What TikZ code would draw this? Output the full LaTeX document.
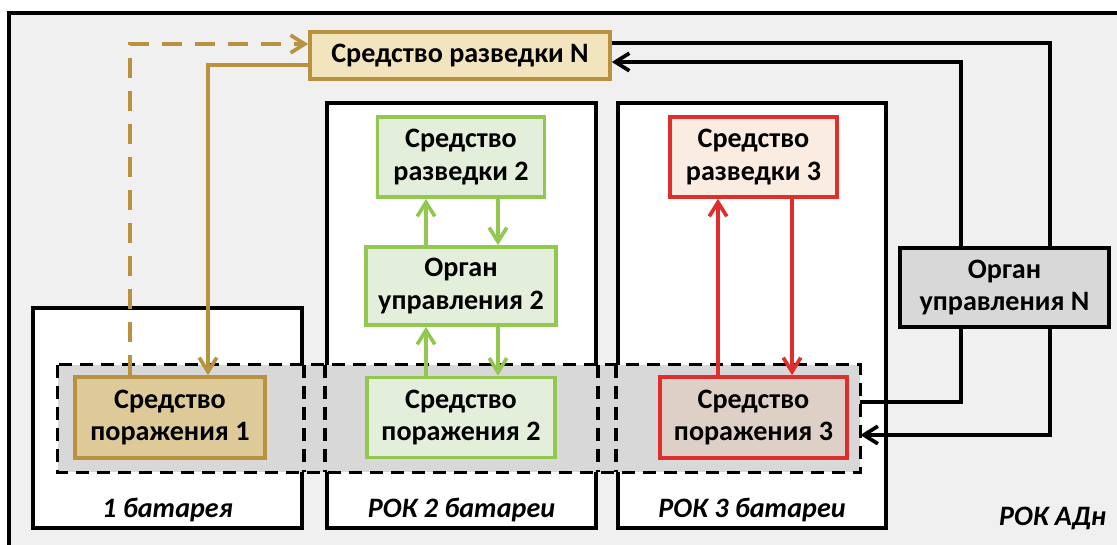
\documentclass[tikz,border=0pt]{standalone}
\usepackage{fontspec}
\setmainfont{Carlito}
\usetikzlibrary{arrows.meta}
\definecolor{bgGray}{RGB}{240,240,240}
\definecolor{bandGray}{RGB}{216,216,216}
\definecolor{goldLine}{RGB}{184,146,62}
\definecolor{goldLight}{RGB}{242,228,188}
\definecolor{goldDark}{RGB}{221,202,152}
\definecolor{greenLine}{RGB}{146,200,82}
\definecolor{greenFill}{RGB}{227,239,218}
\definecolor{redLine}{RGB}{222,46,46}
\definecolor{redLight}{RGB}{251,236,226}
\definecolor{redDark}{RGB}{222,208,198}
\definecolor{orgFill}{RGB}{216,216,216}
\tikzset{
  unit/.style={draw, line width=2.1pt, align=center, inner sep=0pt,
    font=\bfseries\fontsize{16}{18.5}\selectfont},
  frame/.style={draw=black, fill=white, line width=2.6pt, inner sep=0pt},
  tag/.style={font=\bfseries\itshape\fontsize{16}{18.5}\selectfont, inner sep=2pt},
  bandline/.style={draw=black, line width=2.1pt, dash pattern=on 0.26cm off 0.16cm},
  arr/.style={-{Straight Barb[length=8pt,width=10pt]}},
  link/.style={line width=2.1pt}
}
\begin{document}
\begin{tikzpicture}
  \clip (0,0) rectangle (22.34,10.88);
  \fill[white] (0,0) rectangle (22.34,10.88);
  % outer frame
  \draw[fill=bgGray, line width=2.8pt] (0.18,10.62) rectangle (23,-1);
  \node[tag, anchor=south east] (adn) at (22.2,0.2) {РОК АДн};

  % battery frames
  \node[frame, minimum width=5.38cm, minimum height=4.40cm] (bat1) at (3.35,2.52) {};
  \node[frame, minimum width=5.38cm, minimum height=8.50cm] (bat2) at (9.23,4.57) {};
  \node[frame, minimum width=5.36cm, minimum height=8.50cm] (bat3) at (15.04,4.57) {};
  \node[tag, above=0.08cm] (lab1) at (bat1.south) {1 батарея};
  \node[tag, above=0.08cm] (lab2) at (bat2.south) {РОК 2 батареи};
  \node[tag, above=0.08cm] (lab3) at (bat3.south) {РОК 3 батареи};

  % strike band
  \node[fill=bandGray, inner sep=0pt, minimum width=16.04cm, minimum height=2.14cm] (band) at (9.18,2.51) {};
  \draw[bandline] (band.north west) rectangle (band.south east);
  \draw[bandline] (bat1.east |- band.north) -- (bat1.east |- band.south);
  \draw[bandline] (bat2.west |- band.north) -- (bat2.west |- band.south);
  \draw[bandline] (bat2.east |- band.north) -- (bat2.east |- band.south);
  \draw[bandline] (bat3.west |- band.north) -- (bat3.west |- band.south);

  % units
  \node[unit, draw=goldLine, fill=goldLight, minimum width=6.0cm, minimum height=0.94cm] (razvN) at (9.2,9.77) {Средство разведки N};
  \node[unit, draw=goldLine, fill=goldDark, minimum width=3.8cm, minimum height=1.62cm] (por1) at (3.4,2.53) {Средство\\поражения 1};

  \node[unit, draw=greenLine, fill=greenFill, minimum width=3.34cm, minimum height=1.6cm] (razv2) at (9.22,7.74) {Средство\\разведки 2};
  \node[unit, draw=greenLine, fill=greenFill, minimum width=3.8cm, minimum height=1.56cm] (org2) at (9.22,5.16) {Орган\\управления 2};
  \node[unit, draw=greenLine, fill=greenFill, minimum width=3.76cm, minimum height=1.6cm] (por2) at (9.22,2.53) {Средство\\поражения 2};

  \node[unit, draw=redLine, fill=redLight, minimum width=3.34cm, minimum height=1.6cm] (razv3) at (15.07,7.74) {Средство\\разведки 3};
  \node[unit, draw=redLine, fill=redDark, minimum width=3.74cm, minimum height=1.62cm] (por3) at (15.07,2.53) {Средство\\поражения 3};

  \node[unit, draw=black, fill=orgFill, minimum width=4.18cm, minimum height=1.58cm] (orgN) at (20.09,5.13) {Орган\\управления N};

  % gold links
  \draw[link, goldLine, arr, dash pattern=on 0.4cm off 0.26cm] ([xshift=-0.8cm]por1.north) |- ([yshift=0.23cm]razvN.west);
  \draw[link, goldLine, arr] ([yshift=-0.19cm]razvN.west) -| ([xshift=0.76cm]por1.north);

  % green links
  \draw[link, greenLine, arr] ([xshift=-0.7cm]org2.north) -- ([xshift=-0.7cm]razv2.south);
  \draw[link, greenLine, arr] ([xshift=0.74cm]razv2.south) -- ([xshift=0.74cm]org2.north);
  \draw[link, greenLine, arr] ([xshift=-0.7cm]por2.north) -- ([xshift=-0.7cm]org2.south);
  \draw[link, greenLine, arr] ([xshift=0.74cm]org2.south) -- ([xshift=0.74cm]por2.north);

  % red links
  \draw[link, redLine, arr] ([xshift=-0.71cm]por3.north) -- ([xshift=-0.71cm]razv3.south);
  \draw[link, redLine, arr] ([xshift=0.77cm]razv3.south) -- ([xshift=0.77cm]por3.north);

  % black links
  \draw[link] ([yshift=0.25cm]razvN.east) -| ([xshift=0.91cm]orgN.north);
  \draw[link, arr] ([xshift=-0.87cm]orgN.north) |- ([yshift=-0.13cm]razvN.east);
  \draw[link] ([xshift=-0.87cm]orgN.south) |- ([yshift=0.33cm]band.east);
  \draw[link, arr] ([xshift=0.91cm]orgN.south) |- ([yshift=-0.33cm]band.east);
\end{tikzpicture}
\end{document}
